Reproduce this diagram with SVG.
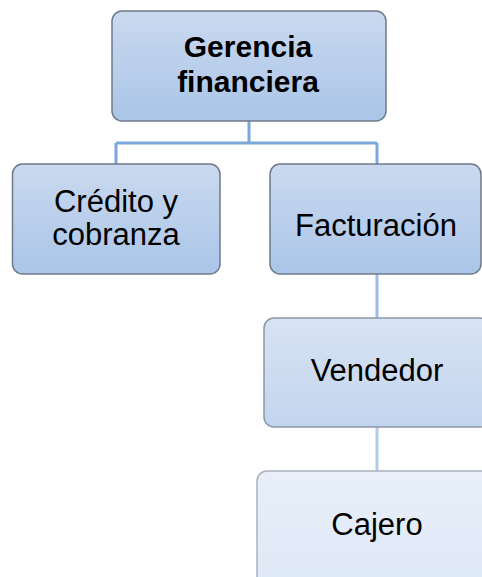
<svg xmlns="http://www.w3.org/2000/svg" width="482" height="577" viewBox="0 0 482 577">
<defs>
<linearGradient id="g1" x1="0" y1="0" x2="0" y2="1"><stop offset="0" stop-color="#cad9ef"/><stop offset="1" stop-color="#aac5e8"/></linearGradient>
<linearGradient id="g2" x1="0" y1="0" x2="0" y2="1"><stop offset="0" stop-color="#d8e3f3"/><stop offset="1" stop-color="#c2d5ee"/></linearGradient>
<linearGradient id="g3" x1="0" y1="0" x2="0" y2="1"><stop offset="0" stop-color="#e8eff9"/><stop offset="1" stop-color="#dde8f6"/></linearGradient>
<style>
.box{stroke:#6f7a89;stroke-width:1.5}
.l1{fill:url(#g1)}
.l2{fill:url(#g2);stroke:#8c97a6}
.l3{fill:url(#g3);stroke:#a9b2be}
text{font-family:"Liberation Sans",Arial,sans-serif;font-size:31px;fill:#000;text-anchor:middle}
.b{font-weight:bold;font-size:30px}
.c{fill:none;stroke-width:3}
</style>
</defs>
<g id="connectors">
<path class="c" stroke="#7ba7da" d="M249 121V143M116 143H377M116 143V164M377 143V164"/>
<path class="c" stroke="#9dbce1" d="M377 274V318"/>
<path class="c" stroke="#b4cbe7" d="M377 427V471"/>
</g>
<g id="gerencia">
<rect class="box l1" x="112" y="11" width="274" height="110" rx="10"/>
<text class="b" x="248" y="57">Gerencia</text>
<text class="b" x="248" y="92">financiera</text>
</g>
<g id="credito">
<rect class="box l1" x="12.5" y="164" width="207.5" height="110" rx="10"/>
<text x="116" y="212">Crédito y</text>
<text x="116" y="245">cobranza</text>
</g>
<g id="facturacion">
<rect class="box l1" x="270" y="164" width="211" height="110" rx="10"/>
<text x="376" y="236">Facturación</text>
</g>
<g id="vendedor">
<rect class="box l2" x="264" y="318" width="226" height="109" rx="10"/>
<text x="377" y="381">Vendedor</text>
</g>
<g id="cajero">
<rect class="box l3" x="257" y="471" width="240" height="120" rx="10"/>
<text x="377" y="535">Cajero</text>
</g>
</svg>
